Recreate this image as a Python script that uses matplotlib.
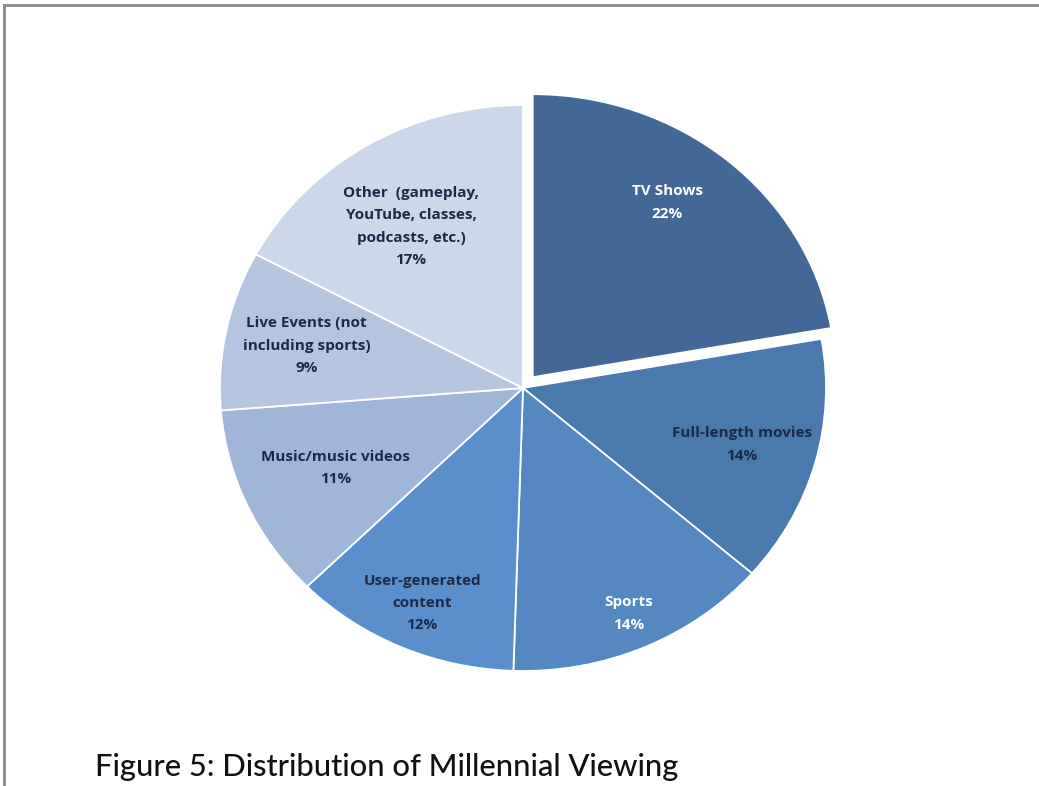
import numpy as np
import matplotlib
matplotlib.use('Agg')
import matplotlib.pyplot as plt
from matplotlib.lines import Line2D

# Data
categories = ['TV Shows', 'Full-length movies', 'Sports', 'User-generated\ncontent',
              'Music/music videos', 'Live Events (not\nincluding sports)',
              'Other  (gameplay,\nYouTube, classes,\npodcasts, etc.)']
shares = [22, 14, 14, 12, 11, 9, 17]

COLORS = ['#436895', '#4a79ae', '#5587c0', '#5b8fcb', '#9fb6d9', '#b5c5e0', '#ccd7e9']
TEXT_COLORS = ['white', '#1c2a48', 'white', '#1c2a48', '#1c2a48', '#1c2a48', '#1c2a48']
LABEL_DIST = [0.76, 0.75, 0.87, 0.83, 0.68, 0.73, 0.68]
LABEL_TURN = [4, 0, 0, 0, 0, 0, 2]   # small angular nudges, degrees
EXPLODE = [0.05, 0, 0, 0, 0, 0, 0]

W, H = 1039, 786
fig = plt.figure(figsize=(W / 100, H / 100), dpi=100)

# pie centre / radii in pixels (the original is a touch wider than tall)
cx, cy, rx, ry = 523, 388, 303, 283
lim = 1.1
ax = fig.add_axes([(cx - rx * lim) / W, (H - cy - ry * lim) / H,
                   2 * rx * lim / W, 2 * ry * lim / H])

wedges, _ = ax.pie(shares, colors=COLORS, startangle=90, counterclock=False,
                   explode=EXPLODE, radius=1.0,
                   wedgeprops={'edgecolor': 'white', 'linewidth': 1.3})
ax.set_xlim(-lim, lim)
ax.set_ylim(-lim, lim)
ax.set_aspect('auto')
ax.axis('off')

for w, lab, pct, tc, d, t, ex in zip(wedges, categories, shares, TEXT_COLORS,
                                     LABEL_DIST, LABEL_TURN, EXPLODE):
    mid = np.deg2rad((w.theta1 + w.theta2) / 2 + t)
    x = (d + ex) * np.cos(mid)
    y = (d + ex) * np.sin(mid)
    ax.text(x, y, lab + '\n' + str(pct) + '%', ha='center', va='center',
            color=tc, fontsize=11, fontweight='bold', family='Open Sans',
            linespacing=1.75)

# frame from the screenshot
fig.add_artist(Line2D([4 / W, 1], [1 - 5 / H, 1 - 5 / H], color='#8a8a8a', lw=2))
fig.add_artist(Line2D([4 / W, 4 / W], [0, 1 - 5 / H], color='#8a8a8a', lw=2))

fig.text(95 / W, 1 - 776 / H, 'Figure 5: Distribution of Millennial Viewing',
         fontsize=22.2, family='Lato', fontweight='medium', color='#111111',
         ha='left', va='baseline')

fig.savefig('out.png', dpi=100)
